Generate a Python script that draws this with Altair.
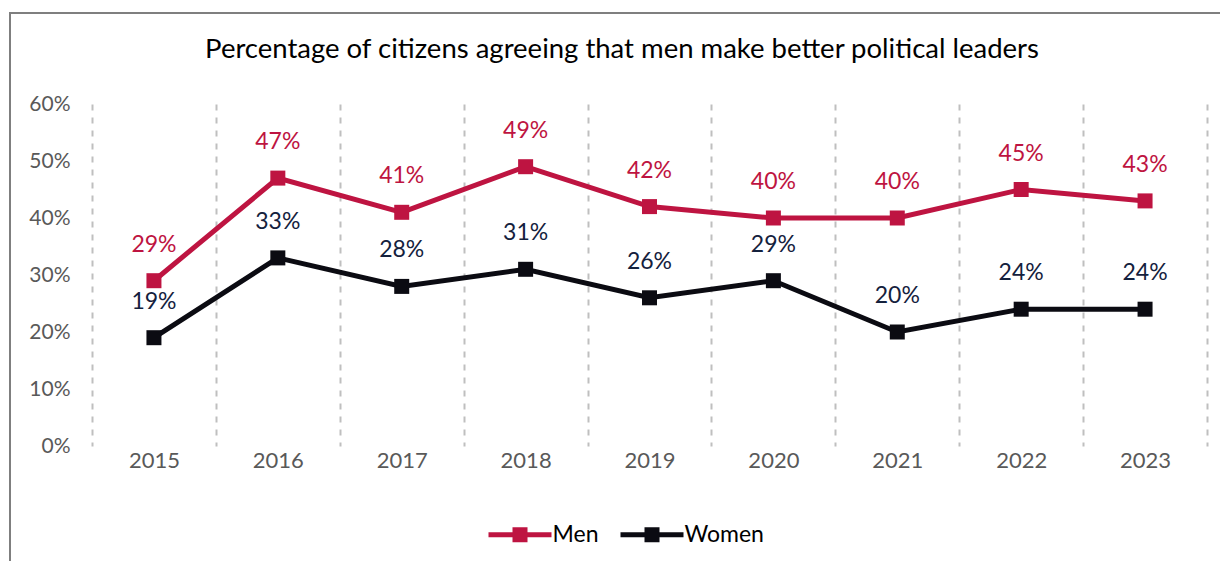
import altair as alt
import pandas as pd

years = ["2015", "2016", "2017", "2018", "2019", "2020", "2021", "2022", "2023"]
men = [29, 47, 41, 49, 42, 40, 40, 45, 43]
women = [19, 33, 28, 31, 26, 29, 20, 24, 24]
series = ["Men", "Women"]
line_colors = ["#BE1441", "#0B0B12"]
label_colors = ["#BE1441", "#14213D"]
title_text = "Percentage of citizens agreeing that men make better political leaders"

rows = []
for y, m, w in zip(years, men, women):
    rows.append({"year": y, "series": "Men", "value": m / 100})
    rows.append({"year": y, "series": "Women", "value": w / 100})
df = pd.DataFrame(rows)

FONT = "Lato"
PL, PT = 92, 104
W, H = 1115, 342

x_enc = alt.X("year:O", scale=alt.Scale(type="band", paddingInner=0, paddingOuter=0),
              bandPosition=0.5, title=None)
y_enc = alt.Y("value:Q", scale=alt.Scale(domain=[0, 0.6]), title=None,
              axis=alt.Axis(values=[0, 0.1, 0.2, 0.3, 0.4, 0.5, 0.6], format=".0%"))
color_scale = alt.Scale(domain=series, range=line_colors)

base = alt.Chart(df)

line_layers = []
text_layers = []
for s, lc, tc in zip(series, line_colors, label_colors):
    sub = base.transform_filter(alt.datum.series == s)
    line_layers.append(sub.mark_line(strokeWidth=5, color=lc).encode(x=x_enc, y=y_enc))
    text_layers.append(
        sub.mark_text(dy=-36, fontSize=23, font=FONT, color=tc, baseline="middle").encode(
            x=x_enc, y=y_enc, text=alt.Text("value:Q", format=".0%"))
    )

legend_path = "M-4.2,-0.33H4.2V0.33H-4.2Z M-1,-1H1V1H-1Z"
squares = base.mark_square(size=225, opacity=1, filled=True).encode(
    x=x_enc, y=y_enc,
    color=alt.Color("series:N", scale=color_scale,
                    legend=alt.Legend(title=None, orient="none", direction="horizontal",
                                      legendX=416.5, legendY=419, padding=0,
                                      symbolType=legend_path, symbolSize=225,
                                      symbolStrokeWidth=0, symbolOpacity=1,
                                      labelFontSize=23, labelFont=FONT,
                                      labelColor="#000000",
                                      labelOffset=21, columnPadding=22)),
)

border = alt.Chart(alt.Data(values=[{"a": 1}])).mark_rect(
    fillOpacity=0, stroke="#7F7F7F", strokeWidth=2
).encode(
    x=alt.value(10 - PL), x2=alt.value(1300), y=alt.value(13 - PT), y2=alt.value(700)
)

title = alt.Chart(alt.Data(values=[{"t": title_text}])).mark_text(
    font=FONT, fontSize=27.5, color="#000000", baseline="middle", align="center"
).encode(text="t:N", x=alt.value(622 - PL), y=alt.value(50 - PT))

chart = alt.layer(border, title, *line_layers, squares, *text_layers).properties(
    width=W, height=H,
    autosize=alt.AutoSizeParams(type="none"),
    padding={"left": PL, "top": PT, "right": 1220 - PL - W, "bottom": 561 - PT - H},
).configure_view(stroke=None).configure_axisX(
    grid=True, gridDash=[6, 7], gridColor="#BFBFBF", gridWidth=2, tickBand="extent",
    domain=False, ticks=False, labelAngle=0, labelFont=FONT, labelFontSize=22,
    labelColor="#595959", labelPadding=4,
).configure_axisY(
    grid=False, domain=False, ticks=False, labelFont=FONT, labelFontSize=21,
    labelColor="#595959", labelPadding=22,
)

chart.save("out.html", embed_options={"renderer": "svg", "actions": False})
